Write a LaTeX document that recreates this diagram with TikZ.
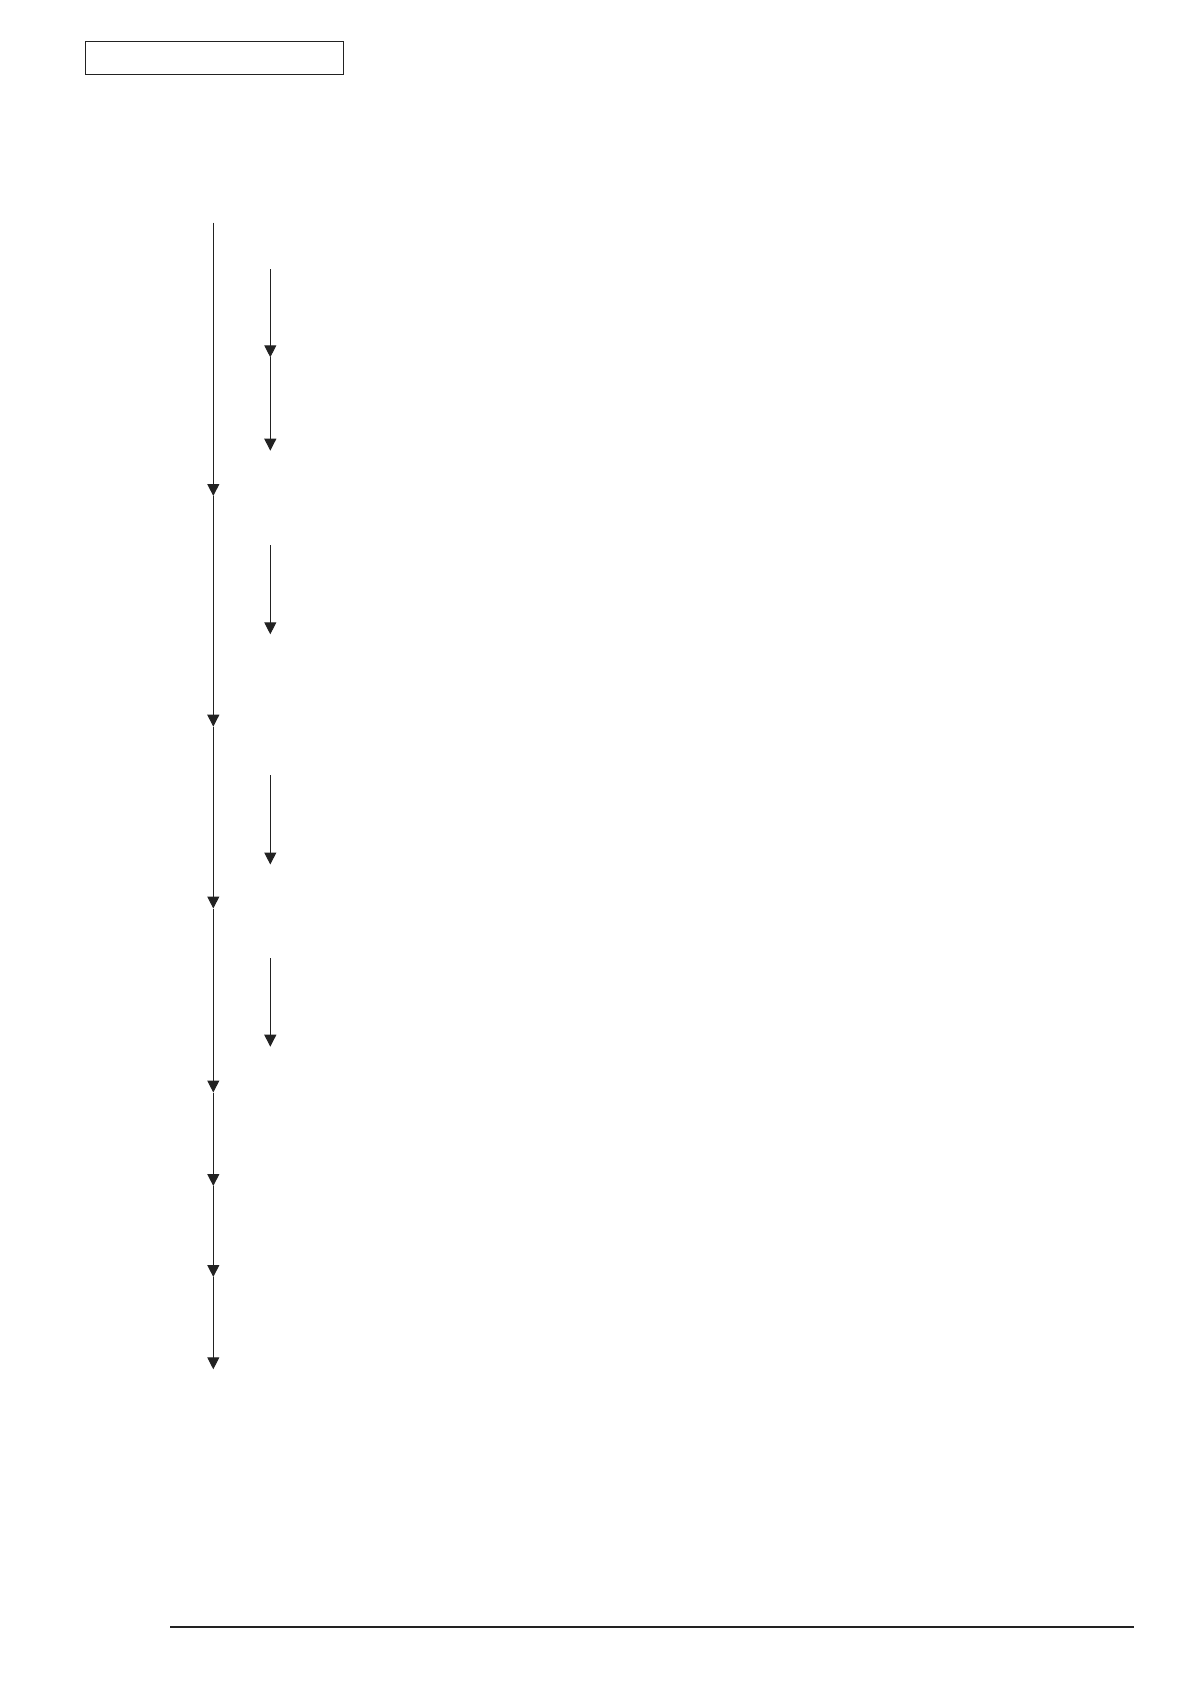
\documentclass[tikz,border=0pt]{standalone}
\usetikzlibrary{arrows.meta}
\definecolor{ink}{HTML}{222222}
\begin{document}
\begin{tikzpicture}[x=1pt,y=-1pt,
  flow/.style={draw=ink,line width=1pt,-{Triangle[width=12pt,length=12pt]}},
  hdrbox/.style={draw=ink,line width=1pt,rectangle,minimum width=258pt,minimum height=33pt,inner sep=0pt},
  rule/.style={draw=ink,line width=1.3pt}]
\useasboundingbox (0,0) rectangle (1191,1684);
% header box
\node[hdrbox,anchor=north west] (hdr) at (85,40.5) {};
% main flow
\coordinate (m0) at (213.3,222.7);
\coordinate (m1) at (213.3,496);
\coordinate (m2) at (213.3,726.7);
\coordinate (m3) at (213.3,908.5);
\coordinate (m4) at (213.3,1092.5);
\coordinate (m5) at (213.3,1186);
\coordinate (m6) at (213.3,1277);
\coordinate (m7) at (213.3,1369.3);
\draw[flow] (m0) -- (m1);
\draw[flow] (m1) -- (m2);
\draw[flow] (m2) -- (m3);
\draw[flow] (m3) -- (m4);
\draw[flow] (m4) -- (m5);
\draw[flow] (m5) -- (m6);
\draw[flow] (m6) -- (m7);
% inner flows
\coordinate (a0) at (270.3,269);
\coordinate (a1) at (270.3,357.3);
\coordinate (a2) at (270.3,450.7);
\draw[flow] (a0) -- (a1);
\draw[flow] (a1) -- (a2);
\coordinate (b0) at (270.3,545);
\coordinate (b1) at (270.3,634.3);
\draw[flow] (b0) -- (b1);
\coordinate (c0) at (270.3,775);
\coordinate (c1) at (270.3,864.5);
\draw[flow] (c0) -- (c1);
\coordinate (d0) at (270.3,958);
\coordinate (d1) at (270.3,1046.7);
\draw[flow] (d0) -- (d1);
% footer rule
\coordinate (f0) at (170,1627);
\coordinate (f1) at (1133.7,1627);
\draw[rule] (f0) -- (f1);
\end{tikzpicture}
\end{document}
